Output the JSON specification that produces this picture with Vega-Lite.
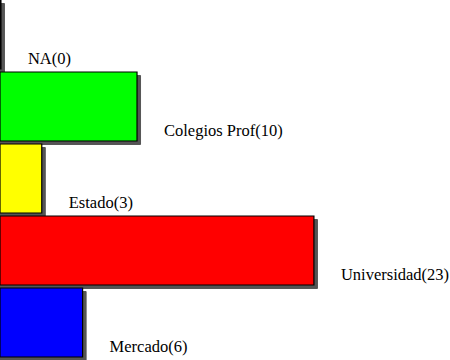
{
  "$schema": "https://vega.github.io/schema/vega-lite/v6.json",
  "width": 450,
  "height": 360,
  "padding": 0,
  "autosize": {"type": "none"},
  "background": "white",
  "config": {"view": {"stroke": null}},
  "data": {
    "values": [
      {"cat": "NA", "val": 0, "label": "NA(0)", "color": "#ffffff"},
      {"cat": "Colegios Prof", "val": 10, "label": "Colegios Prof(10)", "color": "#00ff00"},
      {"cat": "Estado", "val": 3, "label": "Estado(3)", "color": "#ffff00"},
      {"cat": "Universidad", "val": 23, "label": "Universidad(23)", "color": "#ff0000"},
      {"cat": "Mercado", "val": 6, "label": "Mercado(6)", "color": "#0000ff"}
    ]
  },
  "encoding": {
    "y": {
      "field": "cat",
      "type": "nominal",
      "sort": ["NA", "Colegios Prof", "Estado", "Universidad", "Mercado"],
      "axis": null,
      "scale": {"paddingInner": 0.042, "paddingOuter": 0.021, "align": 0}
    },
    "x": {
      "field": "val",
      "type": "quantitative",
      "axis": null,
      "scale": {"domain": [-0.07, 33], "nice": false, "zero": false}
    }
  },
  "layer": [
    {
      "mark": {"type": "bar", "color": "#555555", "stroke": "#555555", "strokeWidth": 1, "xOffset": 3.5, "yOffset": 3.5, "cornerRadius": 0},
      "encoding": {"x2": {"datum": -0.07}}
    },
    {
      "mark": {"type": "bar", "stroke": "#000000", "strokeWidth": 1.2},
      "encoding": {
        "x2": {"datum": -0.07},
        "fill": {"field": "color", "type": "nominal", "scale": null, "legend": null}
      }
    },
    {
      "mark": {"type": "text", "align": "left", "baseline": "middle", "dx": 27, "font": "Liberation Serif", "fontSize": 16.5, "color": "#000000"},
      "encoding": {
        "y": {
          "field": "cat",
          "type": "nominal",
          "sort": ["NA", "Colegios Prof", "Estado", "Universidad", "Mercado"],
          "axis": null,
          "bandPosition": 0.855
        },
        "text": {"field": "label", "type": "nominal"}
      }
    }
  ]
}
